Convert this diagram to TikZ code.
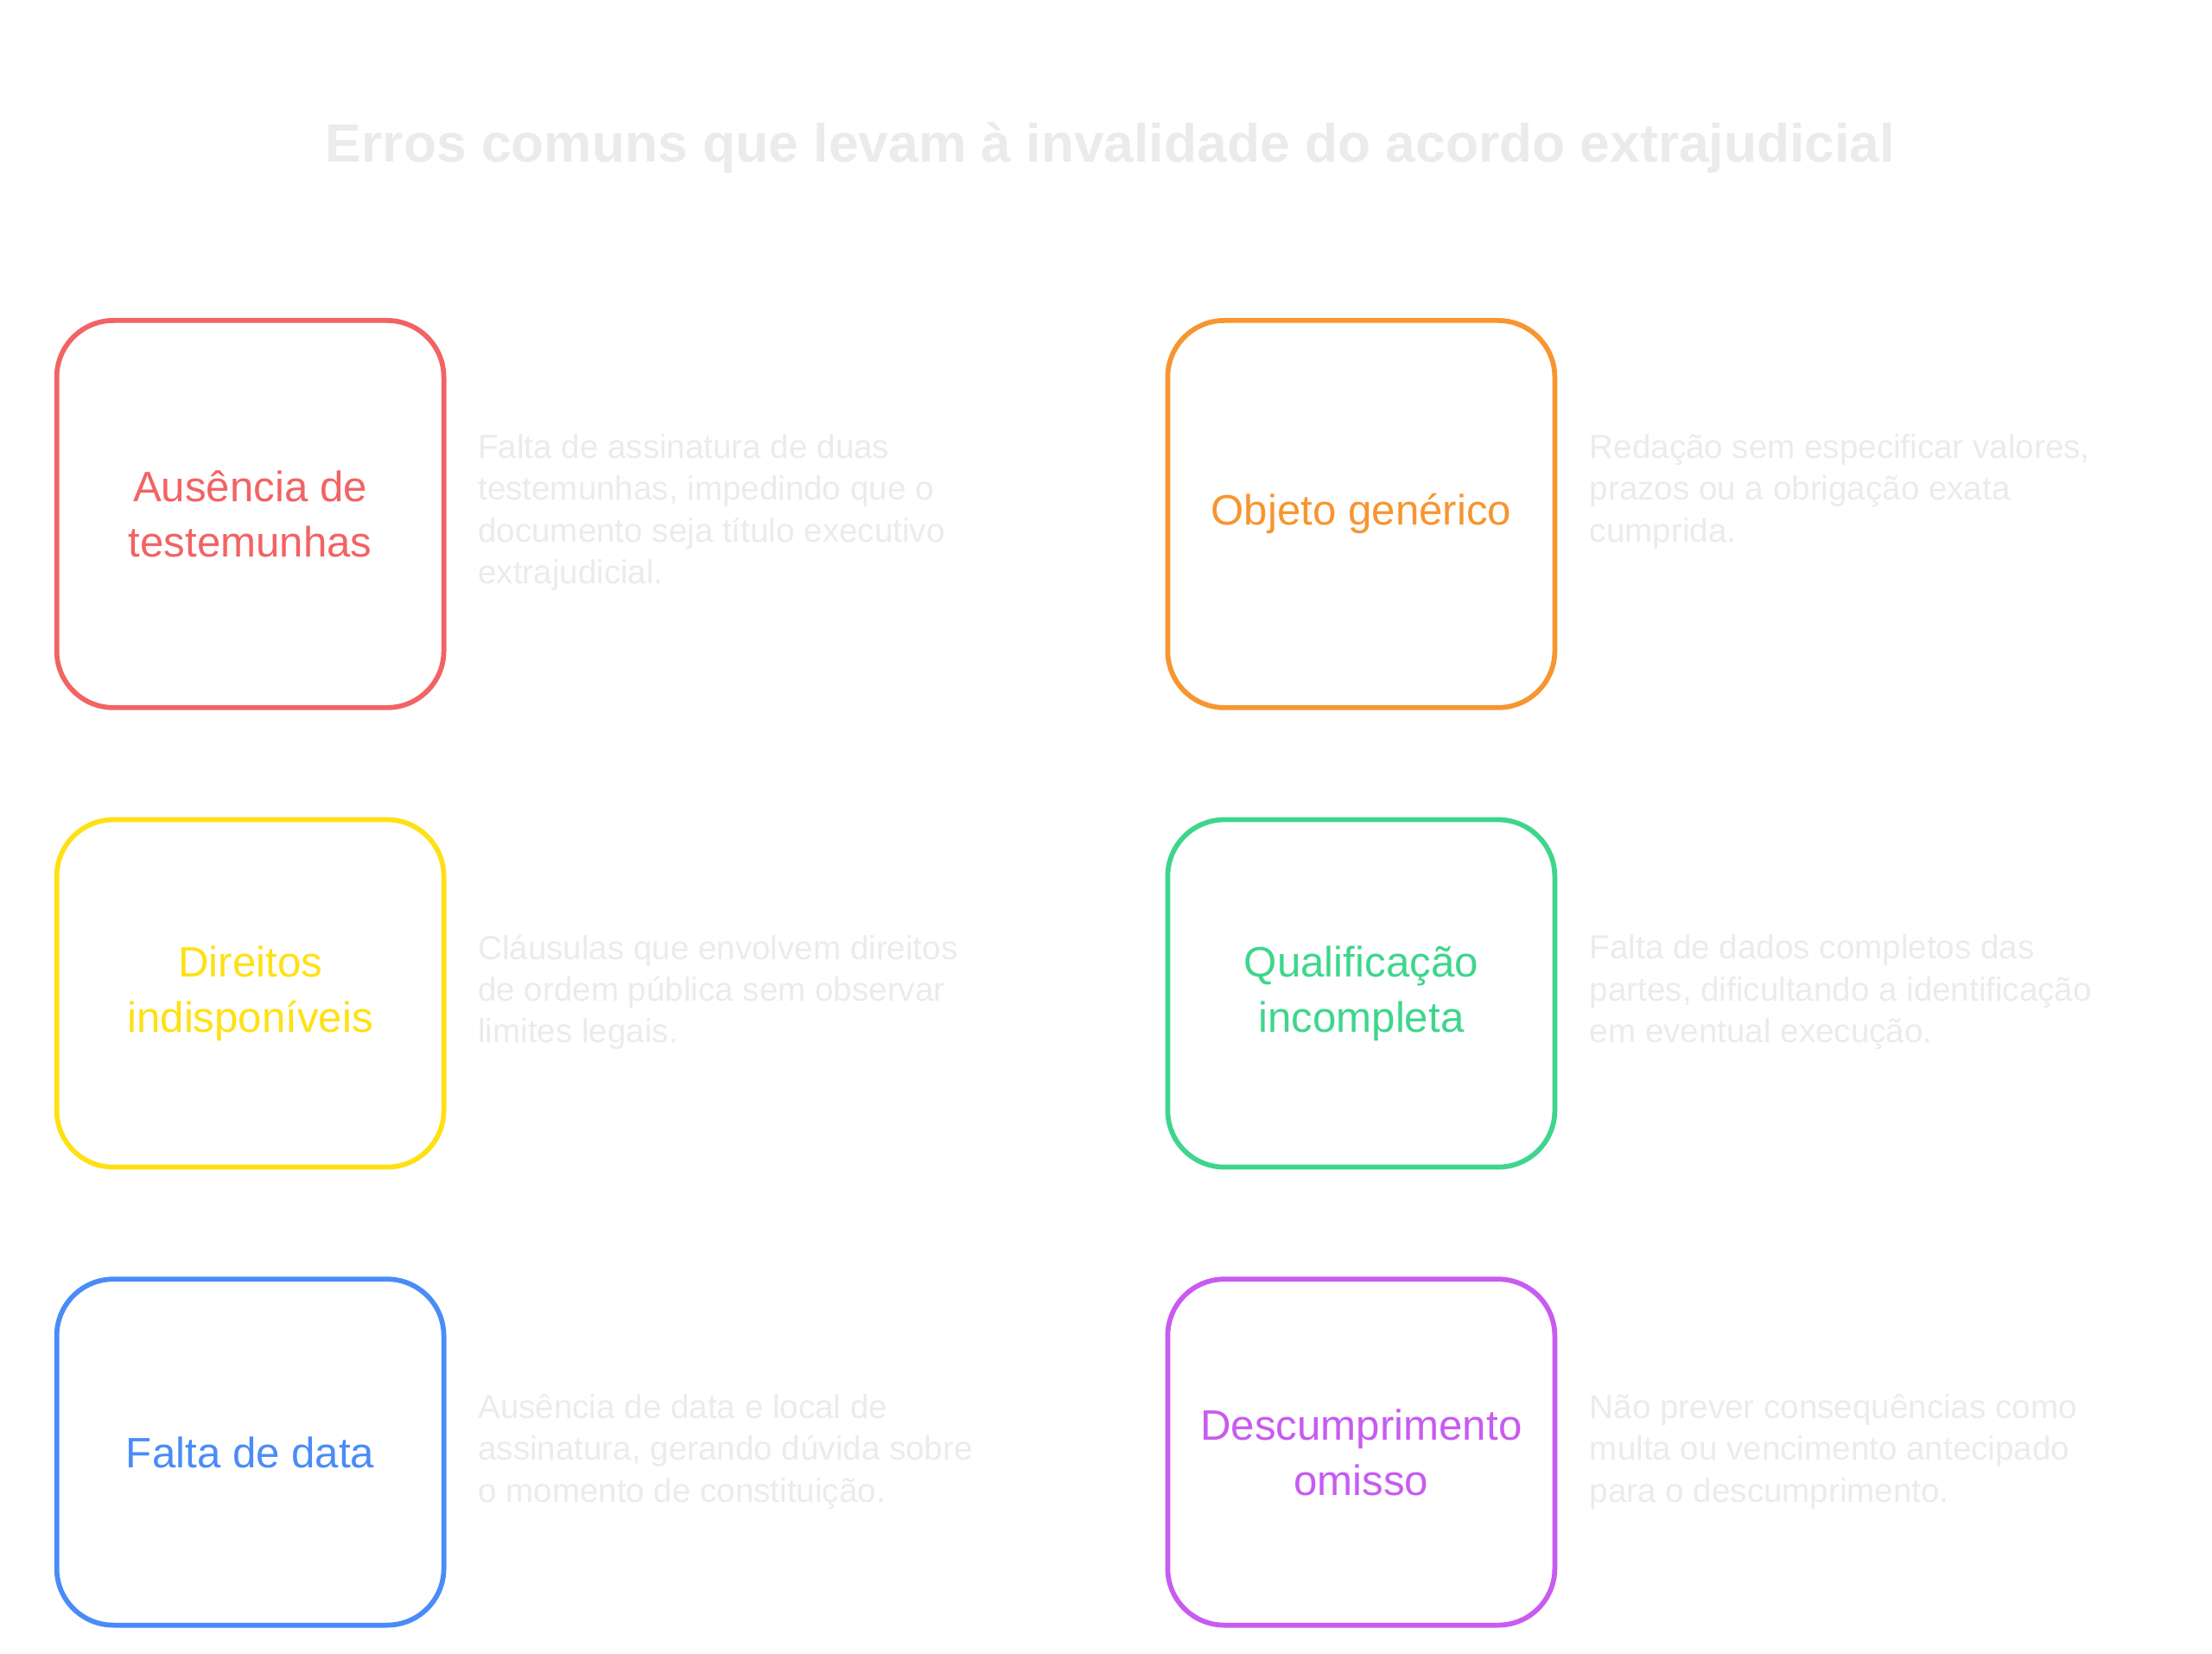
\documentclass[tikz,border=0pt]{standalone}
\usepackage{fontspec}
\setmainfont{Liberation Sans}
\usetikzlibrary{positioning}
\definecolor{cred}{HTML}{F26363}
\definecolor{corange}{HTML}{F7952F}
\definecolor{cyellow}{HTML}{FFE014}
\definecolor{cgreen}{HTML}{3ED68C}
\definecolor{cblue}{HTML}{4A8CF7}
\definecolor{cpurple}{HTML}{C85BF0}
\definecolor{cfaint}{HTML}{EBEBEB}
\begin{document}
\begin{tikzpicture}[x=1pt,y=-1pt,
  err box/.style={draw=#1,text=#1,line width=3.5pt,rounded corners=40pt,
    minimum width=273pt,align=center,font=\fontsize{30}{39}\selectfont},
  err text/.style={anchor=north west,align=left,text=cfaint,inner sep=0pt,
    font=\fontsize{23.5}{29.5}\selectfont}]
  \useasboundingbox (0,0) rectangle (1560,1166);

  \node[text=cfaint,font=\bfseries\fontsize{38}{44}\selectfont] (title) at (783,104)
    {Erros comuns que levam à invalidade do acordo extrajudicial};

  \node[err box=cred,minimum height=273pt] (b1) at (176.5,362.5) {Ausência de\\testemunhas};
  \node[err box=corange,minimum height=273pt] (b2) at (960,362.5) {Objeto genérico};
  \node[err box=cyellow,minimum height=245pt] (b3) at (176.5,700.5) {Direitos\\indisponíveis};
  \node[err box=cgreen,minimum height=245pt] (b4) at (960,700.5) {Qualificação\\incompleta};
  \node[err box=cblue,minimum height=244pt] (b5) at (176.5,1024) {Falta de data};
  \node[err box=cpurple,minimum height=244pt] (b6) at (960,1024) {Descumprimento\\omisso};

  \node[err text] (t1) at (337,306) {Falta de assinatura de duas\\testemunhas, impedindo que o\\documento seja título executivo\\extrajudicial.};
  \node[err text] (t2) at (1121,306) {Redação sem especificar valores,\\prazos ou a obrigação exata\\cumprida.};
  \node[err text] (t3) at (337,659) {Cláusulas que envolvem direitos\\de ordem pública sem observar\\limites legais.};
  \node[err text] (t4) at (1121,659) {Falta de dados completos das\\partes, dificultando a identificação\\em eventual execução.};
  \node[err text] (t5) at (337,983) {Ausência de data e local de\\assinatura, gerando dúvida sobre\\o momento de constituição.};
  \node[err text] (t6) at (1121,983) {Não prever consequências como\\multa ou vencimento antecipado\\para o descumprimento.};
\end{tikzpicture}
\end{document}
